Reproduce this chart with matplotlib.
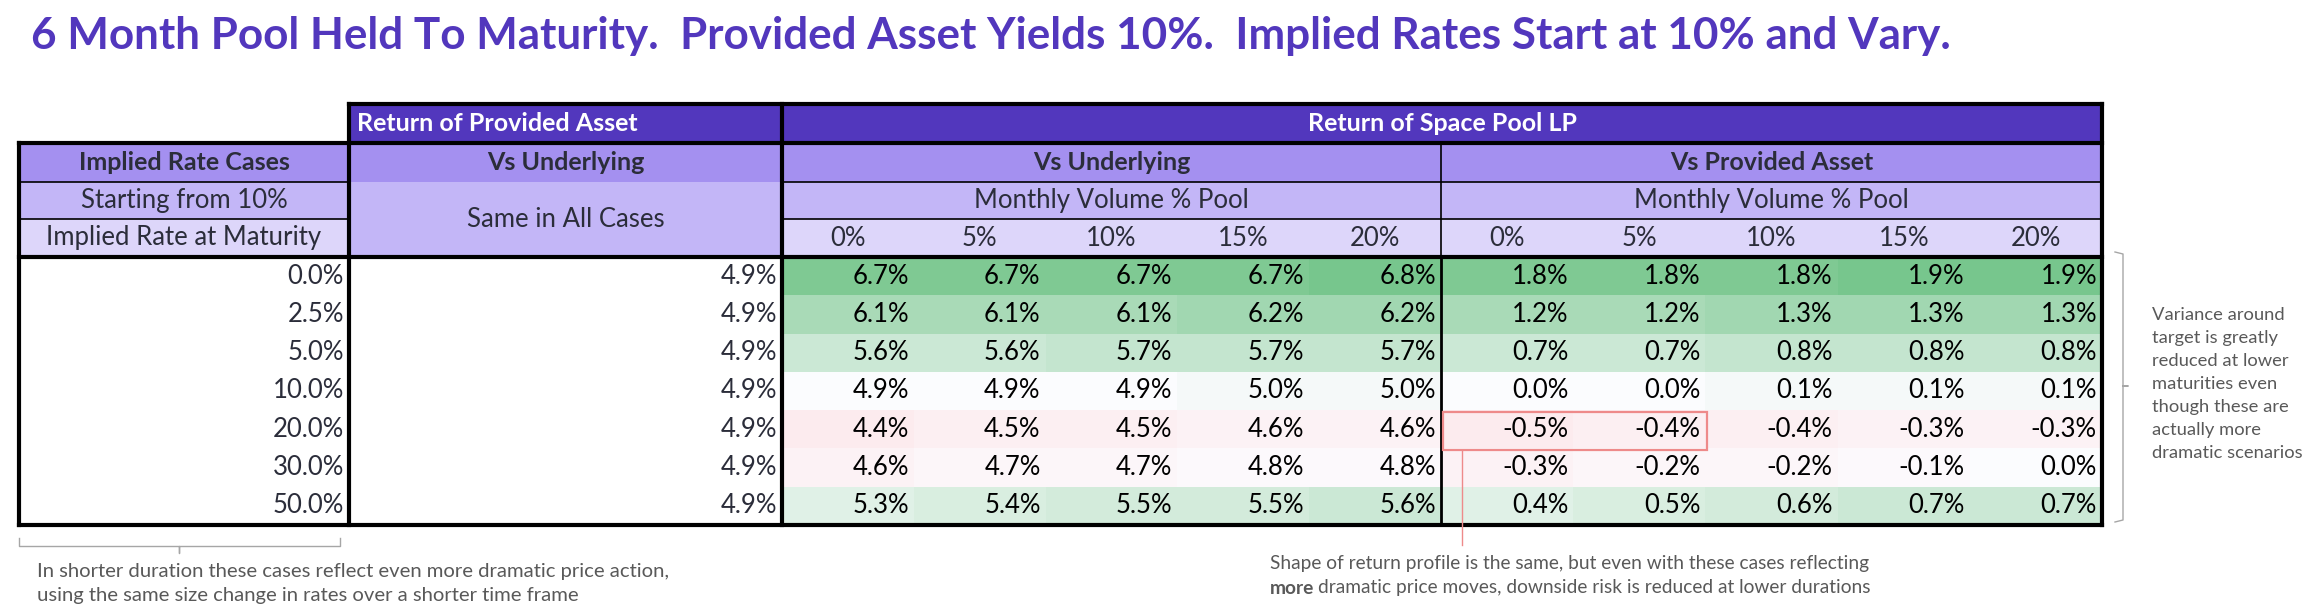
import numpy as np
import matplotlib
matplotlib.use("Agg")
import matplotlib.pyplot as plt
from matplotlib.colors import LinearSegmentedColormap, TwoSlopeNorm
from matplotlib.patches import Rectangle

plt.rcParams['font.family'] = ['Lato', 'DejaVu Sans']

# ---- data ----
implied_rates = [0.0, 2.5, 5.0, 10.0, 20.0, 30.0, 50.0]
provided_vs_underlying = [4.9, 4.9, 4.9, 4.9, 4.9, 4.9, 4.9]
volume_labels = ["0%", "5%", "10%", "15%", "20%"]
lp_vs_underlying = [
    [6.7, 6.7, 6.7, 6.7, 6.8],
    [6.1, 6.1, 6.1, 6.2, 6.2],
    [5.6, 5.6, 5.7, 5.7, 5.7],
    [4.9, 4.9, 4.9, 5.0, 5.0],
    [4.4, 4.5, 4.5, 4.6, 4.6],
    [4.6, 4.7, 4.7, 4.8, 4.8],
    [5.3, 5.4, 5.5, 5.5, 5.6],
]
lp_vs_provided = [
    [1.8, 1.8, 1.8, 1.9, 1.9],
    [1.2, 1.2, 1.3, 1.3, 1.3],
    [0.7, 0.7, 0.8, 0.8, 0.8],
    [0.0, 0.0, 0.1, 0.1, 0.1],
    [-0.5, -0.4, -0.4, -0.3, -0.3],
    [-0.3, -0.2, -0.2, -0.1, 0.0],
    [0.4, 0.5, 0.6, 0.7, 0.7],
]

title = "6 Month Pool Held To Maturity.  Provided Asset Yields 10%.  Implied Rates Start at 10% and Vary."

# ---- colours ----
DARK = "#5237bd"
MID = "#a490f0"
LIGHT = "#c3b6f7"
LIGHTER = "#ddd6fa"
TXT = "#2b2d3a"
GRAY = "#595959"
cmap = LinearSegmentedColormap.from_list("rwg", ["#f8696b", "#fcfcff", "#63be7b"])

fig = plt.figure(figsize=(23.2, 6.12), dpi=100)
ax = fig.add_axes([0, 0, 1, 1])
ax.set_xlim(0, 2320)
ax.set_ylim(612, 0)
ax.axis("off")

# ---- layout ----
x_left, x_c1, x_c2, x_mid, x_right = 19, 349, 782, 1441, 2102
hdr_y = [104, 143, 182, 219, 257]
n = len(implied_rates)
data_y = np.linspace(257, 525, n + 1)
xs_u = np.linspace(x_c2, x_mid, len(volume_labels) + 1)
xs_p = np.linspace(x_mid, x_right, len(volume_labels) + 1)

THICK = 3.0
THIN = 1.2
FS = 18.5
FSB = 18.0
FSA = 13.8


def cell(x0, x1, y0, y1, color):
    ax.add_patch(Rectangle((x0, y0), x1 - x0, y1 - y0, facecolor=color, edgecolor="none", zorder=1))


# header backgrounds
cell(x_c1, x_right, hdr_y[0], hdr_y[1], DARK)
cell(x_left, x_right, hdr_y[1], hdr_y[2], MID)
cell(x_left, x_right, hdr_y[2], hdr_y[3], LIGHT)
cell(x_left, x_c1, hdr_y[3], hdr_y[4], LIGHTER)
cell(x_c1, x_c2, hdr_y[2], hdr_y[4], LIGHT)
cell(x_c2, x_right, hdr_y[3], hdr_y[4], LIGHTER)

# heatmaps
ax.pcolormesh(xs_u, data_y, np.array(lp_vs_underlying), cmap=cmap,
              norm=TwoSlopeNorm(vcenter=4.9, vmin=0.4, vmax=7.1), zorder=1)
ax.pcolormesh(xs_p, data_y, np.array(lp_vs_provided), cmap=cmap,
              norm=TwoSlopeNorm(vcenter=0.0, vmin=-4.5, vmax=2.2), zorder=1)


# header text
def ctext(x, y, s, color=TXT, weight="normal", size=FS):
    ax.text(x, y, s, ha="center", va="center", color=color, fontweight=weight, fontsize=size, zorder=5)


ym = lambda i: (hdr_y[i] + hdr_y[i + 1]) / 2
ax.text(x_c1 + 8, ym(0), "Return of Provided Asset", ha="left", va="center",
        color="white", fontweight="bold", fontsize=FSB, zorder=5)
ctext((x_c2 + x_right) / 2, ym(0), "Return of Space Pool LP", color="white", weight="bold", size=FSB)
ctext((x_left + x_c1) / 2, ym(1), "Implied Rate Cases", weight="bold", size=FSB)
ctext((x_c1 + x_c2) / 2, ym(1), "Vs Underlying", weight="bold", size=FSB)
ctext((x_c2 + x_mid) / 2, ym(1), "Vs Underlying", weight="bold", size=FSB)
ctext((x_mid + x_right) / 2, ym(1), "Vs Provided Asset", weight="bold", size=FSB)
ctext((x_left + x_c1) / 2, ym(2), "Starting from 10%")
ctext((x_left + x_c1) / 2, ym(3), "Implied Rate at Maturity")
ctext((x_c1 + x_c2) / 2, (hdr_y[2] + hdr_y[4]) / 2, "Same in All Cases")
ctext((x_c2 + x_mid) / 2, ym(2), "Monthly Volume % Pool")
ctext((x_mid + x_right) / 2, ym(2), "Monthly Volume % Pool")
for j, lab in enumerate(volume_labels):
    ctext((xs_u[j] + xs_u[j + 1]) / 2, ym(3), lab)
    ctext((xs_p[j] + xs_p[j + 1]) / 2, ym(3), lab)

# data text
for i in range(n):
    yc = (data_y[i] + data_y[i + 1]) / 2
    ax.text(x_c1 - 5, yc, f"{implied_rates[i]:.1f}%", ha="right", va="center", color=TXT, fontsize=FS, zorder=5)
    ax.text(x_c2 - 5, yc, f"{provided_vs_underlying[i]:.1f}%", ha="right", va="center", color=TXT, fontsize=FS, zorder=5)
    for j in range(len(volume_labels)):
        ax.text(xs_u[j + 1] - 5, yc, f"{lp_vs_underlying[i][j]:.1f}%", ha="right", va="center",
                color="black", fontsize=FS, zorder=5)
        ax.text(xs_p[j + 1] - 5, yc, f"{lp_vs_provided[i][j]:.1f}%", ha="right", va="center",
                color="black", fontsize=FS, zorder=5)


# grid lines
def hline(y, x0, x1, lw):
    ax.plot([x0, x1], [y, y], color="black", lw=lw, solid_capstyle="projecting", zorder=6)


def vline(x, y0, y1, lw):
    ax.plot([x, x], [y0, y1], color="black", lw=lw, solid_capstyle="projecting", zorder=6)


hline(hdr_y[0], x_c1, x_right, THICK)
hline(hdr_y[1], x_left, x_right, THICK)
hline(hdr_y[2], x_left, x_c1, THIN)
hline(hdr_y[2], x_c2, x_right, THIN)
hline(hdr_y[3], x_left, x_c1, THIN)
hline(hdr_y[3], x_c2, x_right, THIN)
hline(hdr_y[4], x_left, x_right, THICK)
hline(data_y[-1], x_left, x_right, THICK)
vline(x_left, hdr_y[1], data_y[-1], THICK)
vline(x_c1, hdr_y[0], data_y[-1], THICK)
vline(x_c2, hdr_y[0], data_y[-1], THICK)
vline(x_right, hdr_y[0], data_y[-1], THICK)
vline(x_mid, hdr_y[1], hdr_y[4], THIN)
vline(x_mid, hdr_y[4], data_y[-1], 2.0)

# title
ax.text(31, 36, title, ha="left", va="center", color=DARK, fontweight="bold", fontsize=31.7)

# ---- annotations ----
BR = "#a6a6a6"
ax.plot([19, 19, 179, 179, 179, 340, 340], [538, 546, 546, 553, 546, 546, 538], color=BR, lw=1.0)
ax.text(37, 572, "In shorter duration these cases reflect even more dramatic price action,",
        ha="left", va="center", color=GRAY, fontsize=14.6)
ax.text(37, 595, "using the same size change in rates over a shorter time frame",
        ha="left", va="center", color=GRAY, fontsize=14.6)

ax.plot([2115, 2123, 2123, 2128, 2123, 2123, 2115], [252, 254, 386, 386, 386, 520, 522], color=BR, lw=1.0)
side = ["Variance around", "target is greatly", "reduced at lower", "maturities even",
        "though these are", "actually more", "dramatic scenarios"]
for k, s in enumerate(side):
    ax.text(2152, 315 + k * 23, s, ha="left", va="center", color=GRAY, fontsize=13.2)

# red highlight box
ax.add_patch(Rectangle((1443, 412), 1707 - 1443, 450 - 412, facecolor="none",
                       edgecolor="#ee8a8a", lw=1.6, zorder=7))
ax.plot([1462, 1462], [450, 545], color="#ee8a8a", lw=1.0, zorder=7)
ax.text(1270, 563, "Shape of return profile is the same, but even with these cases reflecting",
        ha="left", va="center", color=GRAY, fontsize=FSA)
t_more = ax.text(1270, 588, "more", ha="left", va="center", color=GRAY, fontsize=FSA, fontweight="bold")
fig.canvas.draw()
bb = t_more.get_window_extent().transformed(ax.transData.inverted())
ax.text(bb.x1 + 4, 588, "dramatic price moves, downside risk is reduced at lower durations",
        ha="left", va="center", color=GRAY, fontsize=FSA)

fig.savefig("out.png", dpi=100)
